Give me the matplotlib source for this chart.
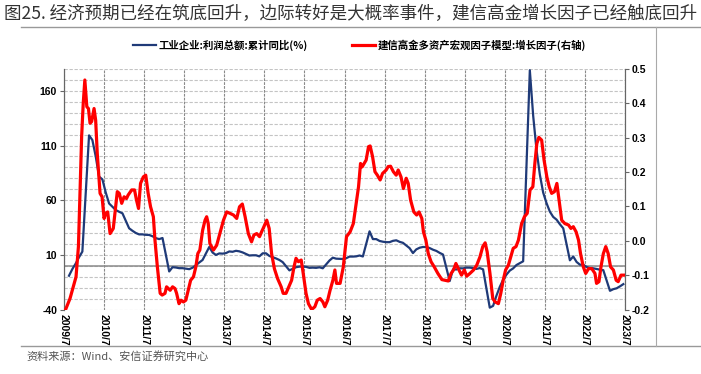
import matplotlib
matplotlib.use("Agg")
import matplotlib.pyplot as plt
from matplotlib.lines import Line2D

plt.rcParams['font.family'] = ['Noto Sans CJK SC', 'DejaVu Sans']

# 工业企业:利润总额:累计同比(%)  (monthly, no January)
blue_months = [
    "2009-08", "2009-09", "2009-10", "2009-11", "2009-12",
    "2010-02", "2010-03", "2010-04", "2010-05", "2010-06", "2010-07", "2010-08", "2010-09", "2010-10", "2010-11", "2010-12",
    "2011-02", "2011-03", "2011-04", "2011-05", "2011-06", "2011-07", "2011-08", "2011-09", "2011-10", "2011-11", "2011-12",
    "2012-02", "2012-03", "2012-04", "2012-05", "2012-06", "2012-07", "2012-08", "2012-09", "2012-10", "2012-11", "2012-12",
    "2013-02", "2013-03", "2013-04", "2013-05", "2013-06", "2013-07", "2013-08", "2013-09", "2013-10", "2013-11", "2013-12",
    "2014-02", "2014-03", "2014-04", "2014-05", "2014-06", "2014-07", "2014-08", "2014-09", "2014-10", "2014-11", "2014-12",
    "2015-02", "2015-03", "2015-04", "2015-05", "2015-06", "2015-07", "2015-08", "2015-09", "2015-10", "2015-11", "2015-12",
    "2016-02", "2016-03", "2016-04", "2016-05", "2016-06", "2016-07", "2016-08", "2016-09", "2016-10", "2016-11", "2016-12",
    "2017-02", "2017-03", "2017-04", "2017-05", "2017-06", "2017-07", "2017-08", "2017-09", "2017-10", "2017-11", "2017-12",
    "2018-02", "2018-03", "2018-04", "2018-05", "2018-06", "2018-07", "2018-08", "2018-09", "2018-10", "2018-11", "2018-12",
    "2019-02", "2019-03", "2019-04", "2019-05", "2019-06", "2019-07", "2019-08", "2019-09", "2019-10", "2019-11", "2019-12",
    "2020-02", "2020-03", "2020-04", "2020-05", "2020-06", "2020-07", "2020-08", "2020-09", "2020-10", "2020-11", "2020-12",
    "2021-02", "2021-03", "2021-04", "2021-05", "2021-06", "2021-07", "2021-08", "2021-09", "2021-10", "2021-11", "2021-12",
    "2022-02", "2022-03", "2022-04", "2022-05", "2022-06", "2022-07", "2022-08", "2022-09", "2022-10", "2022-11", "2022-12",
    "2023-02", "2023-03", "2023-04", "2023-05", "2023-06",
]
blue_values = [
    -9.1, -3.0, 2.0, 7.8, 13.0,
    119.3, 115.0, 100.0, 81.6, 79.0, 67.0, 57.0, 54.0, 51.0, 49.4, 48.0,
    34.3, 32.0, 30.0, 28.7, 28.7, 28.3, 28.2, 27.0, 25.3, 24.4, 25.4,
    -5.2, -1.3, -1.6, -2.2, -2.2, -2.7, -3.1, -1.8, 0.5, 3.0, 5.3,
    17.2, 12.1, 9.9, 11.3, 11.1, 11.6, 13.1, 12.8, 13.7, 13.2, 12.2,
    9.4, 9.6, 9.6, 8.6, 11.4, 11.4, 9.0, 7.9, 6.7, 5.3, 3.3,
    -4.2, -2.7, -1.3, -0.8, -0.7, -1.0, -1.9, -1.7, -1.9, -1.4, -2.3,
    4.8, 7.4, 6.5, 6.4, 6.2, 6.9, 8.4, 8.4, 8.6, 9.4, 8.5,
    31.5, 24.4, 24.4, 22.7, 22.0, 21.6, 21.6, 22.8, 23.3, 21.9, 21.0,
    16.1, 11.6, 15.0, 16.5, 17.2, 17.1, 16.2, 14.7, 13.6, 11.8, 10.3,
    -14.0, -3.3, -3.4, -2.3, -2.4, -1.7, -1.7, -2.1, -2.9, -2.1, -3.3,
    -38.3, -36.7, -27.4, -19.3, -12.8, -8.1, -4.4, -2.4, 0.7, 2.4, 4.1,
    178.9, 137.3, 106.0, 83.4, 66.9, 57.3, 49.5, 44.7, 42.2, 38.0, 34.3,
    5.0, 8.5, 3.5, 1.0, 1.0, -1.1, -2.1, -2.3, -3.0, -3.6, -4.0,
    -22.9, -21.4, -20.6, -18.8, -16.8,
]

# 建信高金多资产宏观因子模型:增长因子 (right axis), dates as decimal years
red_t = [
    2009.54, 2009.65, 2009.73, 2009.80, 2009.86, 2009.90, 2009.94, 2009.98, 2010.02, 2010.07,
    2010.11, 2010.15, 2010.19, 2010.25, 2010.29, 2010.33, 2010.40, 2010.45, 2010.50, 2010.54,
    2010.59, 2010.65, 2010.73, 2010.83, 2010.88, 2010.94, 2011.00, 2011.06, 2011.10, 2011.19,
    2011.26, 2011.31, 2011.36, 2011.41, 2011.48, 2011.54, 2011.60, 2011.66, 2011.73, 2011.77,
    2011.83, 2011.90, 2011.95, 2012.02, 2012.06, 2012.15, 2012.21, 2012.27, 2012.31, 2012.37,
    2012.42, 2012.48, 2012.54, 2012.60, 2012.66, 2012.73, 2012.79, 2012.84, 2012.89, 2012.96,
    2013.02, 2013.06, 2013.10, 2013.14, 2013.23, 2013.31, 2013.39, 2013.48, 2013.56, 2013.64,
    2013.73, 2013.81, 2013.88, 2013.95, 2014.02, 2014.10, 2014.18, 2014.24, 2014.31, 2014.38,
    2014.43, 2014.47, 2014.56, 2014.62, 2014.68, 2014.75, 2014.83, 2014.92, 2014.97, 2015.04,
    2015.11, 2015.18, 2015.24, 2015.29, 2015.35, 2015.42, 2015.47, 2015.54, 2015.60, 2015.68,
    2015.76, 2015.82, 2015.89, 2015.96, 2016.01, 2016.08, 2016.14, 2016.21, 2016.26, 2016.30,
    2016.39, 2016.47, 2016.55, 2016.64, 2016.72, 2016.78, 2016.85, 2016.90, 2016.94, 2016.99,
    2017.04, 2017.10, 2017.14, 2017.20, 2017.26, 2017.32, 2017.39, 2017.45, 2017.54, 2017.59,
    2017.65, 2017.72, 2017.79, 2017.84, 2017.91, 2017.97, 2018.04, 2018.09, 2018.15, 2018.23,
    2018.30, 2018.36, 2018.43, 2018.47, 2018.53, 2018.59, 2018.66, 2018.74, 2018.83, 2018.93,
    2019.01, 2019.09, 2019.16, 2019.22, 2019.28, 2019.34, 2019.42, 2019.49, 2019.55, 2019.63,
    2019.72, 2019.80, 2019.88, 2019.95, 2020.01, 2020.06, 2020.13, 2020.20, 2020.26, 2020.34,
    2020.40, 2020.46, 2020.52, 2020.59, 2020.65, 2020.71, 2020.78, 2020.84, 2020.92, 2020.99,
    2021.06, 2021.13, 2021.20, 2021.25, 2021.30, 2021.35, 2021.42, 2021.48, 2021.55, 2021.61,
    2021.67, 2021.74, 2021.80, 2021.85, 2021.92, 2022.00, 2022.09, 2022.15, 2022.21, 2022.28,
    2022.34, 2022.39, 2022.46, 2022.52, 2022.59, 2022.67, 2022.75, 2022.79, 2022.85, 2022.90,
    2022.96, 2023.02, 2023.08, 2023.14, 2023.21, 2023.28, 2023.33, 2023.40, 2023.46,
]
red_v = [
    -0.200, -0.168, -0.134, -0.105, -0.017, 0.138, 0.303, 0.400, 0.468, 0.390,
    0.385, 0.342, 0.347, 0.385, 0.351, 0.254, 0.138, 0.128, 0.065, 0.080,
    0.084, 0.021, 0.036, 0.143, 0.138, 0.109, 0.128, 0.123, 0.133, 0.148,
    0.148, 0.118, 0.094, 0.167, 0.186, 0.191, 0.138, 0.099, 0.070, 0.002,
    -0.076, -0.153, -0.158, -0.153, -0.134, -0.144, -0.134, -0.139, -0.153, -0.183,
    -0.173, -0.178, -0.173, -0.144, -0.115, -0.105, -0.076, -0.037, -0.027, 0.031,
    0.060, 0.070, 0.050, -0.008, -0.027, -0.013, 0.021, 0.060, 0.084, 0.080,
    0.075, 0.065, 0.099, 0.107, 0.070, 0.021, -0.003, 0.017, 0.021, 0.012,
    0.026, 0.036, 0.060, 0.036, -0.037, -0.081, -0.110, -0.134, -0.153, -0.153,
    -0.134, -0.115, -0.076, -0.051, -0.061, -0.056, -0.095, -0.153, -0.183, -0.200,
    -0.192, -0.173, -0.168, -0.178, -0.192, -0.173, -0.144, -0.115, -0.085, -0.124,
    -0.124, -0.076, 0.012, 0.026, 0.050, 0.099, 0.157, 0.225, 0.215, 0.225,
    0.235, 0.274, 0.276, 0.245, 0.201, 0.191, 0.177, 0.196, 0.206, 0.216,
    0.217, 0.201, 0.191, 0.206, 0.186, 0.152, 0.182, 0.167, 0.118, 0.084,
    0.075, 0.084, 0.065, 0.026, 0.002, -0.037, -0.061, -0.076, -0.095, -0.113,
    -0.115, -0.117, -0.095, -0.085, -0.066, -0.081, -0.100, -0.085, -0.103, -0.095,
    -0.085, -0.071, -0.047, -0.017, -0.006, -0.032, -0.095, -0.168, -0.178, -0.183,
    -0.153, -0.115, -0.085, -0.071, -0.047, -0.022, -0.017, 0.002, 0.050, 0.070,
    0.080, 0.148, 0.157, 0.225, 0.283, 0.301, 0.293, 0.235, 0.186, 0.157,
    0.138, 0.143, 0.167, 0.123, 0.060, 0.050, 0.046, 0.036, 0.041, 0.026,
    0.002, -0.037, -0.076, -0.095, -0.081, -0.081, -0.095, -0.124, -0.119, -0.076,
    -0.037, -0.017, -0.037, -0.076, -0.085, -0.115, -0.119, -0.100, -0.100,
]

x_ticks = [2009.5 + i for i in range(15)]
x_labels = [f"{int(t)}/7" for t in x_ticks]
left_ticks = [-40, 10, 60, 110, 160]
right_ticks = [-0.2, -0.1, 0.0, 0.1, 0.2, 0.3, 0.4, 0.5]

title = "图25. 经济预期已经在筑底回升，边际转好是大概率事件，建信高金增长因子已经触底回升"
blue_name = "工业企业:利润总额:累计同比(%)"
red_name = "建信高金多资产宏观因子模型:增长因子(右轴)"
source = "资料来源：Wind、安信证券研究中心"

BLUE = "#1f3a78"
RED = "#ff0000"
tick_font = dict(family="Liberation Sans", weight="bold", size=7.5)

blue_x = [int(m[:4]) + (int(m[5:]) - 0.5) / 12 for m in blue_months]

fig = plt.figure(figsize=(7.01, 3.74), dpi=100)
ax = fig.add_axes([64 / 701, 1 - 309.5 / 374, (625 - 64) / 701, (309.5 - 69) / 374])
ax2 = ax.twinx()

# grid
for v in range(-40, 181, 10):
    ax.axhline(v, color="#c4c4c4", lw=0.8, ls=(0, (3, 1.5)), zorder=0)
for t in x_ticks:
    ax.axvline(t, color="#8a8a8a", lw=0.8, ls=(0, (2.5, 1)), zorder=0)
ax.axhline(0, color="#8a8a8a", lw=1.1, zorder=1)

ax.plot(blue_x, blue_values, color=BLUE, lw=1.6, zorder=3)
ax2.plot(red_t, red_v, color=RED, lw=2.3, zorder=3)

ax.set_xlim(2009.5, 2023.5)
ax.set_ylim(-40, 180)
ax2.set_ylim(-0.2, 0.5)

ax.set_xticks(x_ticks)
ax.set_xticklabels(x_labels, rotation=270, fontdict=tick_font)
ax.tick_params(axis="x", length=0, pad=3)
ax.set_yticks(left_ticks)
ax.set_yticklabels([str(v) for v in left_ticks], fontdict=tick_font)
ax.tick_params(axis="y", length=3, width=0.8, color="#666666", pad=2)
ax2.set_yticks(right_ticks)
ax2.set_yticklabels([f"{v:.1f}" for v in right_ticks], fontdict=tick_font)
ax2.tick_params(axis="y", length=3, width=0.8, color="#666666", pad=2)

for a in (ax, ax2):
    for s in ("top", "bottom"):
        a.spines[s].set_visible(False)
    a.spines["left"].set_color("#666666")
    a.spines["right"].set_color("#666666")
    a.spines["left"].set_linewidth(0.8)
    a.spines["right"].set_linewidth(0.8)

handles = [Line2D([], [], color=BLUE, lw=1.6), Line2D([], [], color=RED, lw=2.3)]
fig.legend(handles, [blue_name, red_name], loc="center", bbox_to_anchor=(0.513, 0.88),
           ncol=2, frameon=False, handlelength=2.2, handletextpad=0.2, columnspacing=4.3,
           prop=dict(family=["Noto Sans CJK SC"], size=7.5, weight="bold"))

# title, frame lines, source
fig.text(0.006, 0.963, title, fontsize=12.6, color="#333333", va="center", ha="left")
fig.add_artist(Line2D([0.03, 1.0], [1 - 27 / 374] * 2, color="#999999", lw=1.0))
fig.add_artist(Line2D([0.03, 1.0], [1 - 346 / 374] * 2, color="#999999", lw=1.0))
fig.add_artist(Line2D([656 / 701] * 2, [1 - 27 / 374, 1 - 346 / 374], color="#aaaaaa", lw=0.8))
fig.text(0.038, 1 - 356 / 374, source, fontsize=8, color="#555555", va="center", ha="left",
         style="italic")

fig.savefig("out.png", dpi=100)
